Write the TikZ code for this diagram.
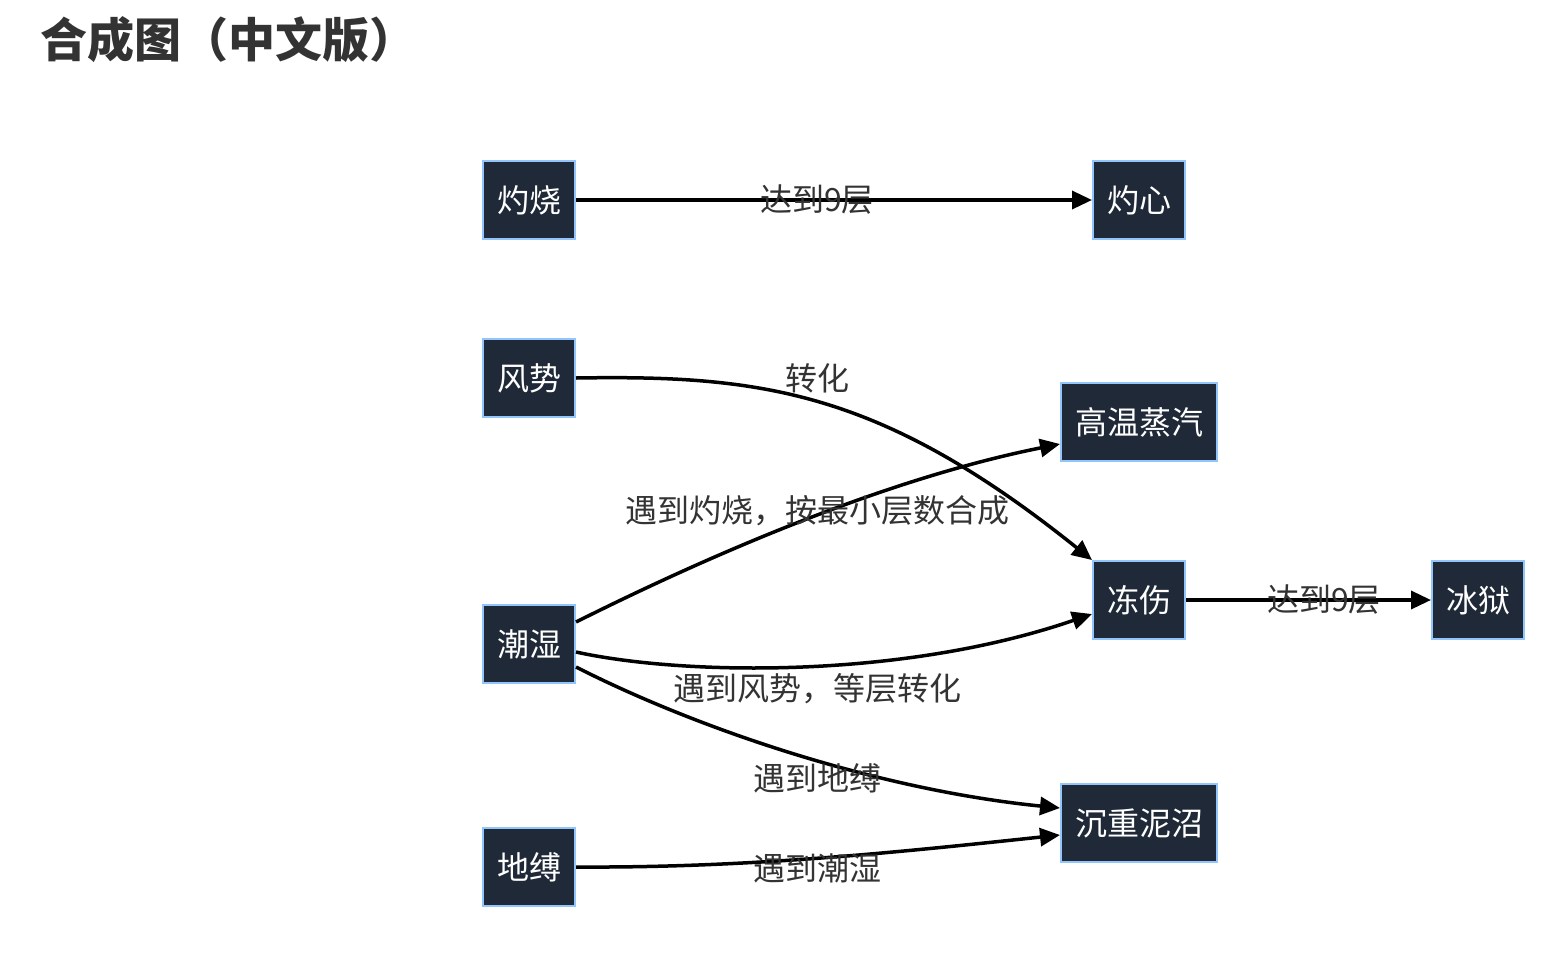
\documentclass[tikz,border=0pt]{standalone}
\usepackage{fontspec}
\setmainfont{Noto Sans CJK SC}
\usetikzlibrary{arrows.meta}
\definecolor{nodefill}{HTML}{1F2937}
\definecolor{nodeborder}{HTML}{93C5FD}
\definecolor{labeltext}{HTML}{333333}
\tikzset{
  box/.style={draw=nodeborder, line width=2pt, fill=nodefill, text=white,
    minimum height=78pt, inner xsep=14pt, inner ysep=0pt,
    font=\fontsize{32}{38}\selectfont},
  conn/.style={line width=3.5pt, -{Triangle[length=20pt,width=18pt]}},
  elabel/.style={text=labeltext, font=\fontsize{32}{38}\selectfont, inner sep=0pt},
}
\begin{document}
\begin{tikzpicture}[x=1pt,y=-1pt]
\useasboundingbox (0,0) rectangle (1560,956);
\node[anchor=west, text=labeltext, font=\fontsize{47}{54}\selectfont\bfseries, inner sep=0pt] (title) at (40,40) {合成图（中文版）};

\node[box] (zs) at (529,200) {灼烧};
\node[box] (zx) at (1139,200) {灼心};
\node[box] (fs) at (529,378) {风势};
\node[box] (gw) at (1139,422) {高温蒸汽};
\node[box] (ds) at (1139,600) {冻伤};
\node[box] (by) at (1478,600) {冰狱};
\node[box] (cs) at (529,644) {潮湿};
\node[box] (cz) at (1139,823) {沉重泥沼};
\node[box] (df) at (529,867) {地缚};

\draw[conn] (zs) -- (zx);
\draw[conn] (ds) -- (by);
\draw[conn] (fs.east) .. controls (760,375) and (880,390) .. (ds.north west);
\draw[conn] ([yshift=22pt]cs.east) .. controls (700,560) and (880,480) .. ([yshift=-22pt]gw.west);
\draw[conn] ([yshift=-8pt]cs.east) .. controls (680,675) and (900,680) .. ([yshift=-14pt]ds.west);
\draw[conn] ([yshift=-23pt]cs.east) .. controls (700,730) and (880,790) .. ([yshift=15pt]cz.west);
\draw[conn] (df.east) .. controls (750,868) and (900,852) .. ([yshift=-12pt]cz.west);

\node[elabel] (l1) at (817,200) {达到9层};
\node[elabel] (l2) at (1324,600) {达到9层};
\node[elabel] (l3) at (817,378) {转化};
\node[elabel] (l4) at (817,511) {遇到灼烧，按最小层数合成};
\node[elabel] (l5) at (817,689) {遇到风势，等层转化};
\node[elabel] (l6) at (817,778) {遇到地缚};
\node[elabel] (l7) at (817,868) {遇到潮湿};
\end{tikzpicture}
\end{document}
